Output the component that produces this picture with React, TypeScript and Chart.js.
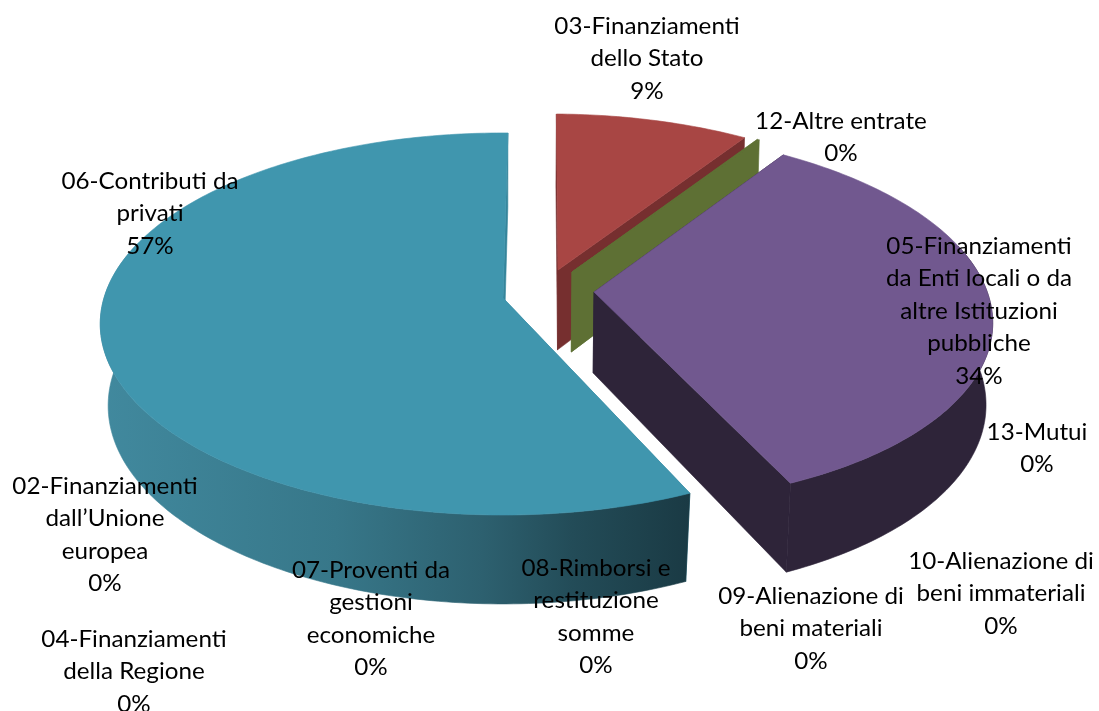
import React, { useEffect, useRef } from "react";
import { Chart, registerables } from "chart.js";

Chart.register(...registerables);

// ---- data ----
const categories = [
  "03-Finanziamenti dello Stato",
  "12-Altre entrate",
  "05-Finanziamenti da Enti locali o da altre Istituzioni pubbliche",
  "13-Mutui",
  "10-Alienazione di beni immateriali",
  "09-Alienazione di beni materiali",
  "08-Rimborsi e restituzione somme",
  "07-Proventi da gestioni economiche",
  "04-Finanziamenti della Regione",
  "02-Finanziamenti dall\u2019Unione europea",
  "06-Contributi da privati",
];
const values = [9.15, 0.1, 33.8, 0, 0, 0, 0, 0, 0, 0, 56.95];
const labelLines = [
  ["03-Finanziamenti", "dello Stato"],
  ["12-Altre entrate"],
  ["05-Finanziamenti", "da Enti locali o da", "altre Istituzioni", "pubbliche"],
  ["13-Mutui"],
  ["10-Alienazione di", "beni immateriali"],
  ["09-Alienazione di", "beni materiali"],
  ["08-Rimborsi e", "restituzione", "somme"],
  ["07-Proventi da", "gestioni", "economiche"],
  ["04-Finanziamenti", "della Regione"],
  ["02-Finanziamenti", "dall\u2019Unione", "europea"],
  ["06-Contributi da", "privati"],
];

// ---- styles ----
const faceColors = ["#A84644", "#5E7034", "#71588F", "#A0A0A0", "#A0A0A0", "#A0A0A0", "#A0A0A0", "#A0A0A0", "#A0A0A0", "#A0A0A0", "#4096AE"];
const wallColors = ["#762F2F", "#5E7034", "#2E2439", "#555", "#555", "#555", "#555", "#555", "#555", "#555", "#35859B"];
const tealWallStops: [number, string][] = [
  [0, "#41899E"],
  [0.4, "#377789"],
  [0.65, "#2D606F"],
  [0.8, "#234C58"],
  [1, "#1A3A44"],
];
const labelAnchors: [number, number][] = [
  [647, 26], [841, 121], [979, 246], [1037, 432], [1001, 561], [811, 596],
  [596, 568], [371, 570], [134, 639], [105, 486], [150, 181],
];
const LINE_STEP = 32.5;
const FONT = "23.5px Lato";
const TEXT_STRETCH = 1.03;
// How far each slice is pulled out, and its radius, as fractions of the pie's radius.
const sliceShift: [number, number][] = [
  [0.1407, 0.1524], [0.176, 0.141], [0.229, 0.032], [0, 0], [0, 0], [0, 0], [0, 0], [0, 0], [0, 0], [0, 0], [0, 0],
];
const topRadius = [0.98, 0.98, 0.99, 1, 1, 1, 1, 1, 1, 1, 1];
const bottomRadius = [0.98, 0.98, 0.985, 1, 1, 1, 1, 1, 1, 1, 0.99];
const CAM = { x0: 503, y0: 298, a: 399, b: 187.5, k: 0.136, m: 0.0094, c: 82 };
const BACK_LIMIT = 0.3; // outer wall behind this depth can never be seen

function project(u: number, v: number, h: number): [number, number] {
  const w = 1 + CAM.k * v + CAM.m * h;
  return [CAM.x0 + (CAM.a * u) / w, CAM.y0 + (-CAM.b * v + CAM.c * h) / w];
}

function tracePoly(ctx: CanvasRenderingContext2D, pts: [number, number][]) {
  ctx.beginPath();
  pts.forEach((p, i) => (i ? ctx.lineTo(p[0], p[1]) : ctx.moveTo(p[0], p[1])));
  ctx.closePath();
}

const pie3d = {
  id: "pie3d",
  beforeDatasetsDraw(chart: any) {
    const ctx: CanvasRenderingContext2D = chart.ctx;
    const meta = chart.getDatasetMeta(0);
    meta.data.forEach((arc: any, idx: number) => {
      const start = arc.startAngle;
      const end = arc.endAngle;
      if (end - start < 1e-6) return;
      const [ox, oy] = sliceShift[idx];
      const steps = Math.max(4, Math.ceil((end - start) * 60));
      const rim = (h: number, r: number, frontOnly: boolean) => {
        const out: [number, number][] = [];
        for (let i = 0; i <= steps; i++) {
          const t = start + ((end - start) * i) / steps;
          const v = oy - r * Math.sin(t);
          if (frontOnly && v > BACK_LIMIT) continue;
          out.push(project(ox + r * Math.cos(t), v, h));
        }
        return out;
      };
      const topRim = rim(0, topRadius[idx], false);
      const wallTop = rim(0, topRadius[idx], true);
      const wallBot = rim(1, bottomRadius[idx], true);
      const first = start;
      const last = end;
      const cutPoint = (t: number, r: number, h: number) =>
        project(ox + r * Math.cos(t), oy - r * Math.sin(t), h);
      const apexTop = project(ox, oy, 0);
      const apexBot = project(ox, oy, 1);
      const wall = wallColors[idx];
      const paint = (fill: any) => {
        ctx.fillStyle = fill;
        ctx.strokeStyle = fill;
        ctx.lineWidth = 0.6;
        ctx.fill();
        ctx.stroke();
      };
      tracePoly(ctx, [apexTop, cutPoint(first, topRadius[idx], 0), cutPoint(first, bottomRadius[idx], 1), apexBot]);
      paint(wall);
      tracePoly(ctx, [apexTop, cutPoint(last, topRadius[idx], 0), cutPoint(last, bottomRadius[idx], 1), apexBot]);
      paint(wall);
      if (wallTop.length > 1) {
        let fill: any = wall;
        if (idx === meta.data.length - 1) {
          const xs = wallBot.concat(wallTop).map((p) => p[0]);
          const g = ctx.createLinearGradient(Math.min(...xs), 0, Math.max(...xs), 0);
          tealWallStops.forEach(([s, c]) => g.addColorStop(s, c));
          fill = g;
        }
        tracePoly(ctx, wallTop.concat(wallBot.slice().reverse()));
        paint(fill);
      }
      tracePoly(ctx, [apexTop, ...topRim]);
      paint(arc.options.backgroundColor);
    });
    return false;
  },
  afterDraw(chart: any) {
    const ctx: CanvasRenderingContext2D = chart.ctx;
    const data: number[] = chart.data.datasets[0].data;
    const total = data.reduce((a, b) => a + b, 0);
    ctx.save();
    ctx.font = FONT;
    ctx.fillStyle = "#000";
    ctx.textAlign = "center";
    ctx.textBaseline = "middle";
    labelLines.forEach((lines, i) => {
      const [x, y] = labelAnchors[i];
      [...lines, `${Math.round((data[i] / total) * 100)}%`].forEach((line, n) => {
        ctx.save();
        ctx.translate(x, y + n * LINE_STEP);
        ctx.scale(TEXT_STRETCH, 1);
        ctx.fillText(line, 0, 0);
        ctx.restore();
      });
    });
    ctx.restore();
  },
};

export default function App() {
  const ref = useRef<HTMLCanvasElement>(null);
  useEffect(() => {
    const chart = new Chart(ref.current as HTMLCanvasElement, {
      type: "pie",
      data: {
        labels: categories,
        datasets: [{ data: values, backgroundColor: faceColors, borderWidth: 0 }],
      },
      options: {
        responsive: false,
        animation: false,
        rotation: 0.8,
        plugins: { legend: { display: false }, tooltip: { enabled: false }, title: { display: false } },
      },
      plugins: [pie3d],
    } as any);
    return () => chart.destroy();
  }, []);
  return (
    <canvas
      ref={ref}
      width={1099}
      height={711}
      style={{ position: "fixed", left: 0, top: 0, display: "block", background: "#fff" }}
    />
  );
}
